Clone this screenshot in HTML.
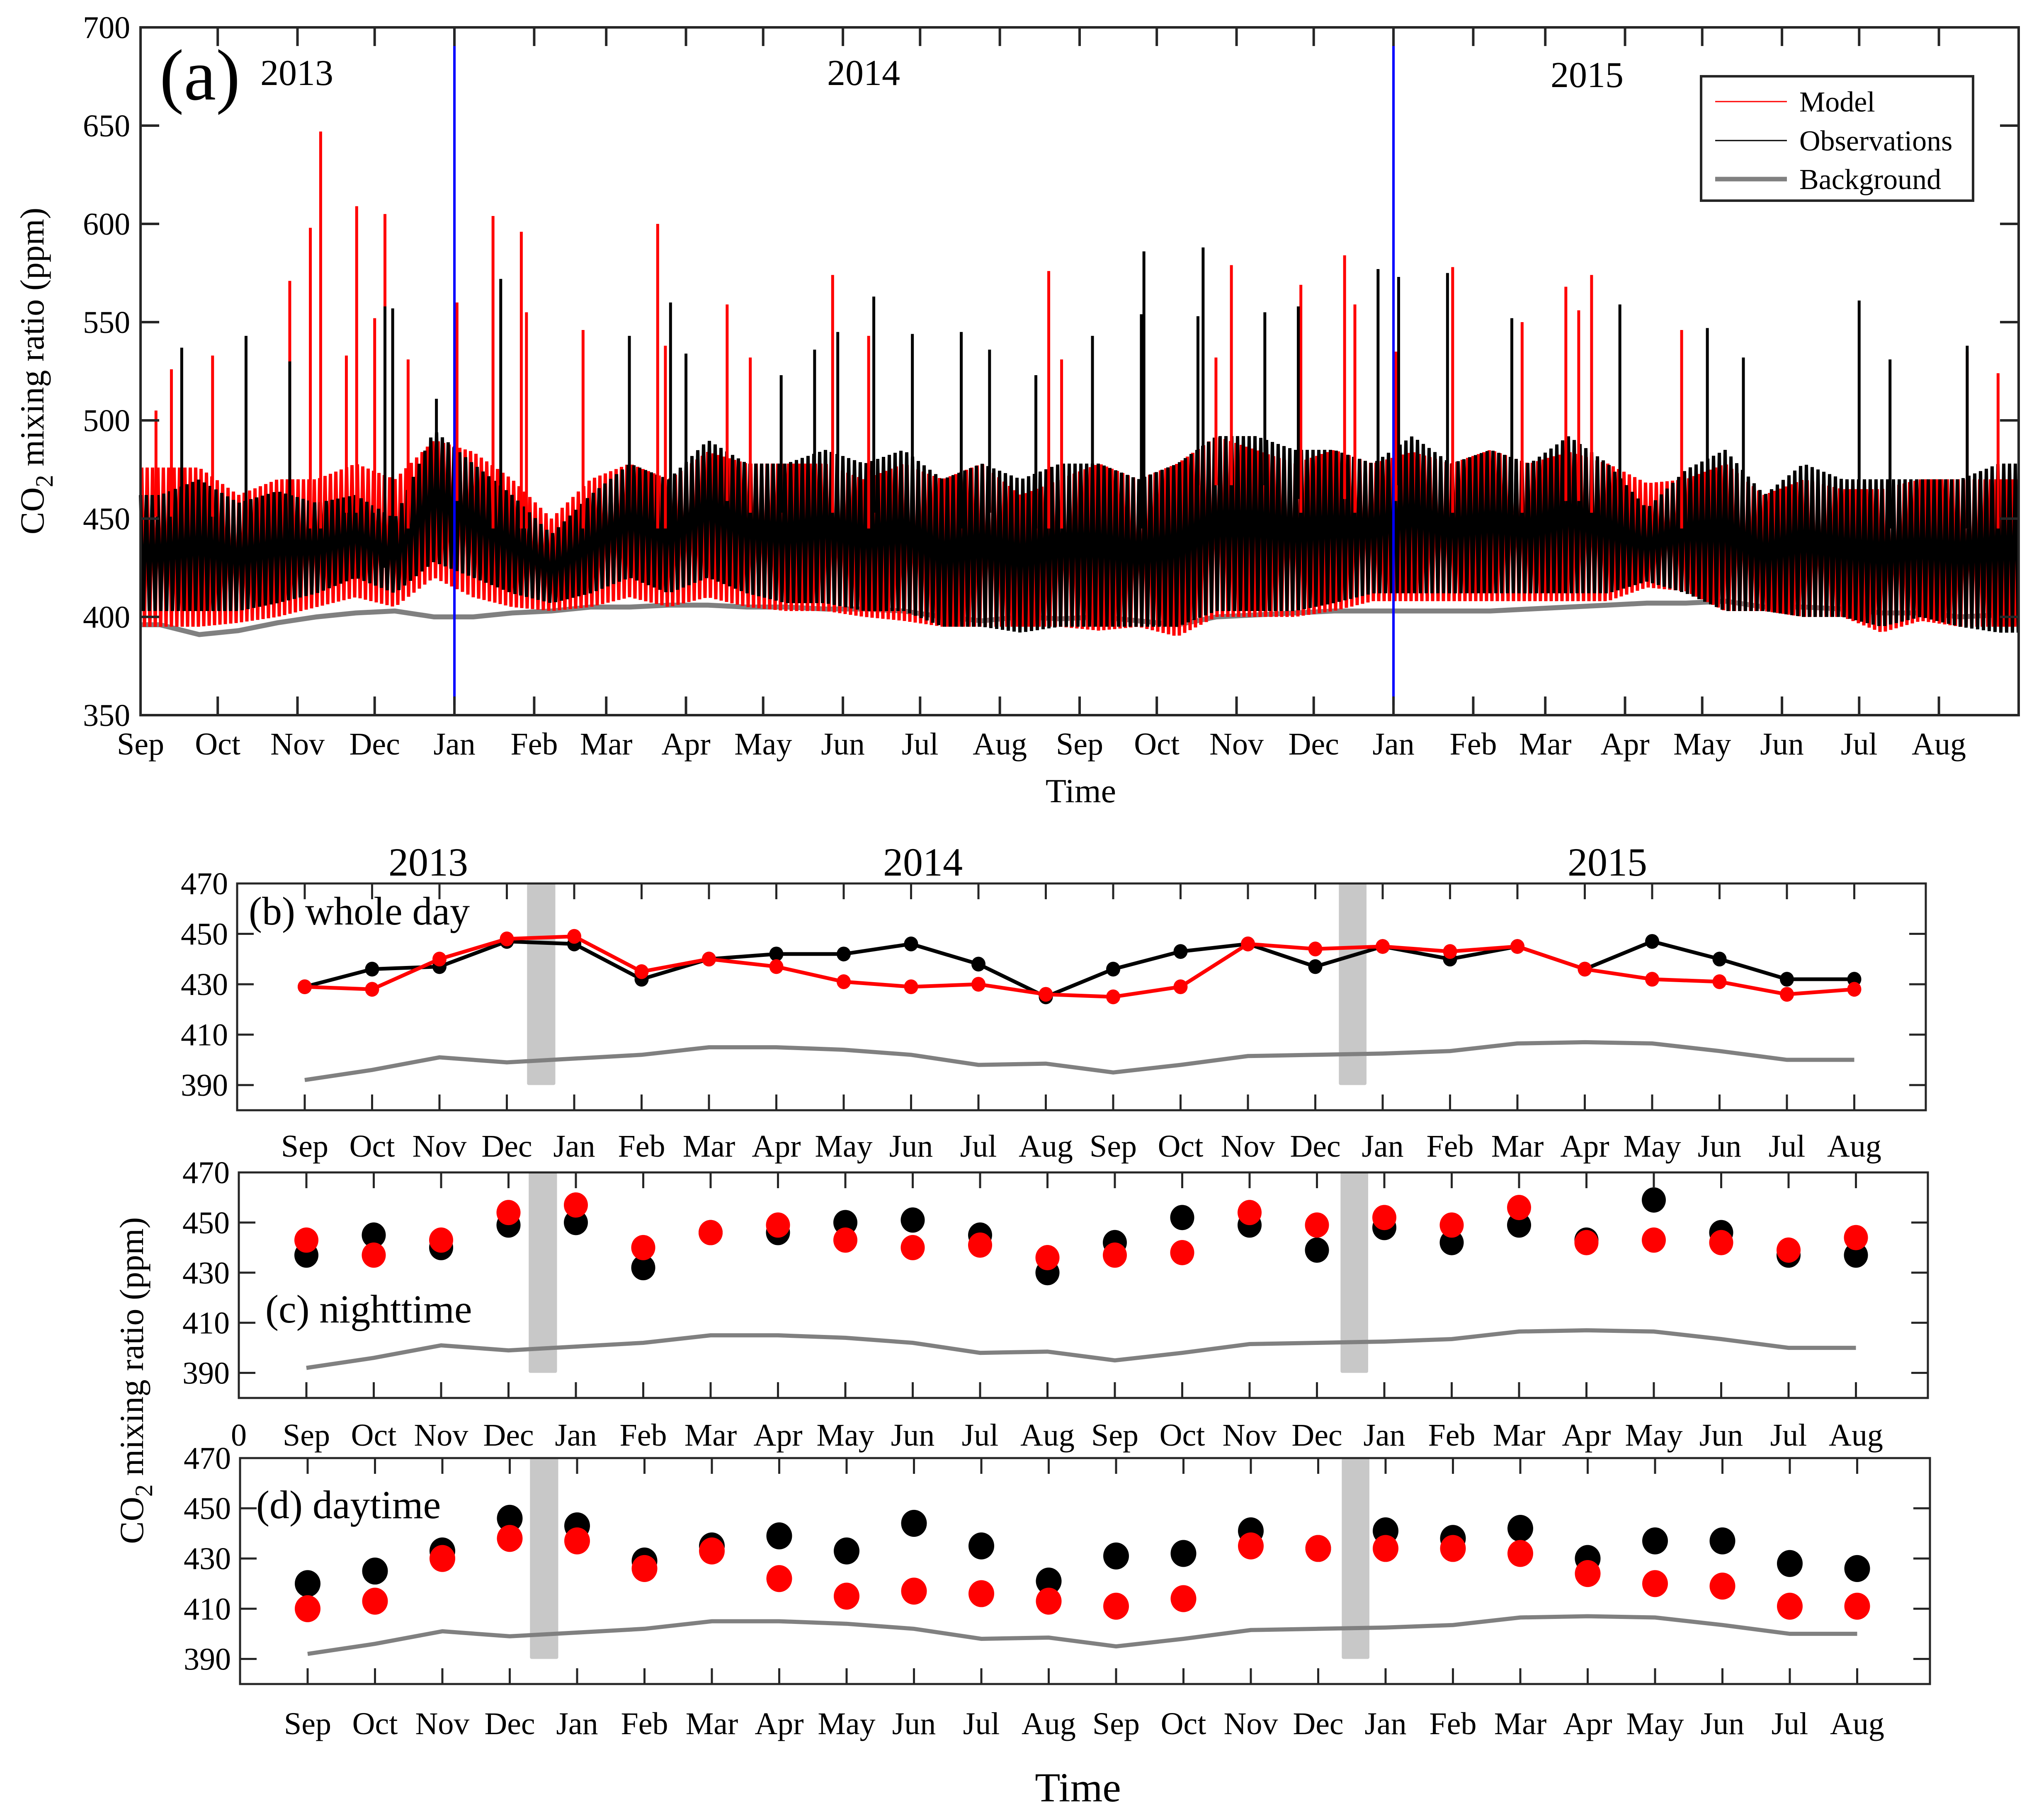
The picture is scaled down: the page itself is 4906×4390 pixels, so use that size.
<!DOCTYPE html>
<html><head><meta charset="utf-8"><style>
html,body{margin:0;padding:0;background:#fff}
svg{display:block}
text{font-family:"Liberation Serif",serif;fill:#000}
</style></head><body>
<svg id="fig" xmlns="http://www.w3.org/2000/svg" width="4906" height="4390" viewBox="0 0 4906 4390">
<rect width="4906" height="4390" fill="#fff"/>
<g id="pa"></g>
<g id="pb"></g>
<g id="pc"></g>
<g id="pd"></g>
<g id="lab"></g>
</svg>
<script>
// ---------- Panel (a) data: half-month envelopes (Sep 2013 H1 ... Aug 2015 H2) ----------
const obsHi=[462,470,458,464,458,462,450,495,478,462,442,462,478,470,490,478,478,485,478,485,470,478,470,478,478,470,478,492,492,485,485,478,492,478,485,478,492,478,455,475,485,462,478,470,470,470,470,478];
const obsLo=[403,403,403,407,412,420,412,428,420,412,407,412,420,412,420,412,407,407,403,403,395,395,392,395,395,395,395,403,403,403,407,412,412,412,412,412,412,412,418,412,403,403,400,400,395,400,395,392];
const modHi=[476,476,462,470,470,478,470,490,484,470,450,470,478,470,484,478,478,478,470,478,470,478,462,470,478,470,478,492,485,478,485,478,484,478,485,478,484,478,468,470,478,462,470,465,465,470,470,470];
const modLo=[395,395,397,400,405,410,405,420,410,405,403,405,410,405,410,405,403,403,400,398,395,395,395,395,393,395,390,400,400,400,403,408,408,408,408,408,408,408,415,413,403,403,400,400,392,398,395,395];
const bgA=[396,391,393,397,400,402,403,400,400,402,403,405,405,406,406,405,405,404,404,403,400,398,400,399,400,398,396,400,401,402,403,403,403,403,403,404,405,406,407,407,408,405,405,404,402,402,400,401];
// spikes: [day since 1 Sep 2013, ppm]
const modSpikes=[[6,505],[12,526],[28,533],[58,571],[66,598],[70,647],[80,533],[84,609],[91,552],[95,605],[104,531],[123,560],[137,604],[148,596],[150,555],[172,546],[201,600],[204,538],[228,559],[237,532],[269,574],[283,543],[353,576],[358,531],[418,532],[424,579],[451,569],[468,584],[472,559],[488,535],[510,578],[537,550],[554,568],[559,556],[564,574],[599,546],[710,535],[722,524]];
const obsSpikes=[[16,537],[41,543],[58,530],[95,558],[98,557],[115,511],[140,572],[190,543],[206,560],[212,534],[249,523],[262,536],[271,545],[285,563],[300,544],[319,545],[330,536],[348,523],[370,543],[389,554],[390,586],[411,553],[413,588],[437,555],[450,558],[481,577],[489,573],[508,575],[533,552],[575,559],[609,547],[623,532],[668,561],[680,531],[710,538]];
const monthStartDays=[0,30,61,91,122,153,181,212,242,273,303,334,365,395,426,456,487,518,546,577,607,638,668,699];
const monthLabels=["Sep","Oct","Nov","Dec","Jan","Feb","Mar","Apr","May","Jun","Jul","Aug","Sep","Oct","Nov","Dec","Jan","Feb","Mar","Apr","May","Jun","Jul","Aug"];
const yTicksA=[350,400,450,500,550,600,650,700];
const blueLineDays=[122,487];

// ---------- Panels (b)(c)(d) monthly data ----------
const bObs=[429,436,437,447,446,432,440,442,442,446,438,425,436,443,446,437,445,440,445,436,447,440,432,432];
const bMod=[429,428,440,448,449,435,440,437,431,429,430,426,425,429,446,444,445,443,445,436,432,431,426,428];
const bgMonthly=[392,396,401,399,400.5,402,405,405,404,402,398,398.5,395,398,401.5,402,402.5,403.5,406.5,407,406.5,403.5,400,400];
const cObs=[437,445,440,449,450,432,446,446,450,451,445,430,442,452,449,439,448,442,449,443,459,446,437,437];
const cMod=[443,437,443,454,457,440,446,449,443,440,441,436,437,438,454,449,452,449,456,442,443,442,439,444];
const dObs=[420,425,433,446,443,429,435,439,433,444,435,421,431,432,441,434,441,438,442,430,437,437,428,426];
const dMod=[410,413,430,438,437,426,433,422,415,417,416,413,411,414,435,434,434,434,432,424,420,419,411,411];
const yTicksS=[390,410,430,450,470];
const bands=[[3.3,3.72],[15.35,15.76]];

const NS="http://www.w3.org/2000/svg";
function mk(parent,tag,attrs,txt){const e=document.createElementNS(NS,tag);for(const k in attrs)e.setAttribute(k,attrs[k]);if(txt!==undefined)e.textContent=txt;parent.appendChild(e);return e;}

// ---------- Panel (a) ----------
(function(){
const g=document.getElementById('pa');
const L=339,R=4869,T=66,B=1725;
const x=d=>L+(d/730)*(R-L);
const y=v=>B-(v-350)/350*(B-T);
const hmw=(R-L)/48;
function interp(arr,px){
  let f=(px-L)/hmw-0.5;
  if(f<=0)return arr[0];
  if(f>=arr.length-1)return arr[arr.length-1];
  const i=Math.floor(f),t=f-i;return arr[i]*(1-t)+arr[i+1]*t;
}
function zig(hi,lo,col,name,phase,step,w){
  let pts=[];let k=0;
  for(let px=L+phase;px<=R;px+=step,k++){
    const v=(k%2===0)?interp(hi,px):interp(lo,px);
    pts.push(px.toFixed(1)+','+y(v).toFixed(1));
  }
  const p=mk(g,'polyline',{points:pts.join(' '),fill:'none',stroke:col,'stroke-width':w,'stroke-linejoin':'bevel'});
  
  
}
let bp=bgA.map((v,i)=>(L+(i+0.5)*hmw).toFixed(1)+','+y(v).toFixed(1));
bp.unshift(L+','+y(bgA[0]).toFixed(1));bp.push(R+','+y(bgA[bgA.length-1]).toFixed(1));
const bl=mk(g,'polyline',{points:bp.join(' '),fill:'none',stroke:'#808080','stroke-width':12});


zig(modHi,modLo,'#ff0000','model-series',3,6.5,8);
zig(obsHi,obsLo,'#000000','observations-series',0,7,8);
function hiAt(arr,d){const i=Math.min(47,Math.max(0,Math.floor(d/730*48)));return arr[i];}
modSpikes.forEach(s=>{const l=mk(g,'line',{x1:x(s[0]),x2:x(s[0]),y1:y(hiAt(modHi,s[0])-25),y2:y(s[1]),stroke:'#ff0000','stroke-width':7});

});
obsSpikes.forEach(s=>{const l=mk(g,'line',{x1:x(s[0]),x2:x(s[0]),y1:y(hiAt(obsHi,s[0])-25),y2:y(s[1]),stroke:'#000','stroke-width':7});

});
blueLineDays.forEach(d=>{const l=mk(g,'line',{x1:x(d),x2:x(d),y1:y(355),y2:y(700),stroke:'#0000ff','stroke-width':6});

});
const ax=mk(g,'rect',{x:L,y:T,width:R-L,height:B-T,fill:'none',stroke:'#262626','stroke-width':6});


yTicksA.forEach(v=>{mk(g,'line',{x1:L,x2:L+45,y1:y(v),y2:y(v),stroke:'#262626','stroke-width':6});
mk(g,'line',{x1:R-45,x2:R,y1:y(v),y2:y(v),stroke:'#262626','stroke-width':6});
const t=mk(g,'text',{x:L-25,y:y(v)+26,'text-anchor':'end','font-size':76},String(v));

});
monthStartDays.forEach((d,i)=>{mk(g,'line',{x1:x(d),x2:x(d),y1:B,y2:B-45,stroke:'#262626','stroke-width':6});
mk(g,'line',{x1:x(d),x2:x(d),y1:T,y2:T+45,stroke:'#262626','stroke-width':6});
const t=mk(g,'text',{x:x(d),y:B+95,'text-anchor':'middle','font-size':76},monthLabels[i]);

});
})();

// ---------- Panels b,c,d ----------
function small(id,L,R,T,B,obs,mod,lines,r,ticklabY,zero){
const g=document.getElementById(id);
const sepX=L+163, step=162.5;
const x=i=>sepX+i*step;
const y=v=>B-(v-380)/90*(B-T);
bands.forEach(b=>{const rr=mk(g,'rect',{x:x(b[0]),y:y(470),width:x(b[1])-x(b[0]),height:y(390)-y(470),fill:'#c8c8c8',rx:4});

});
const bl=mk(g,'polyline',{points:bgMonthly.map((v,i)=>x(i).toFixed(1)+','+y(v).toFixed(1)).join(' '),fill:'none',stroke:'#808080','stroke-width':10});


if(lines){
 const o=mk(g,'polyline',{points:obs.map((v,i)=>x(i)+','+y(v)).join(' '),fill:'none',stroke:'#000','stroke-width':9});
 
 
}
obs.forEach((v,i)=>{const c=mk(g,'ellipse',{cx:x(i),cy:y(v),rx:r,ry:r*1.05,fill:'#000'});

});
if(lines){
 const m=mk(g,'polyline',{points:mod.map((v,i)=>x(i)+','+y(v)).join(' '),fill:'none',stroke:'#ff0000','stroke-width':9});
 
 
}
mod.forEach((v,i)=>{const c=mk(g,'ellipse',{cx:x(i),cy:y(v),rx:r,ry:r*1.05,fill:'#ff0000'});

});
const ax=mk(g,'rect',{x:L,y:T,width:R-L,height:B-T,fill:'none',stroke:'#262626','stroke-width':5});


yTicksS.forEach(v=>{mk(g,'line',{x1:L,x2:L+40,y1:y(v),y2:y(v),stroke:'#262626','stroke-width':5});
mk(g,'line',{x1:R-40,x2:R,y1:y(v),y2:y(v),stroke:'#262626','stroke-width':5});
const t=mk(g,'text',{x:L-22,y:y(v)+26,'text-anchor':'end','font-size':76},String(v));

});
monthLabels.forEach((lab,i)=>{mk(g,'line',{x1:x(i),x2:x(i),y1:B,y2:B-38,stroke:'#262626','stroke-width':5});
mk(g,'line',{x1:x(i),x2:x(i),y1:T,y2:T+38,stroke:'#262626','stroke-width':5});
const t=mk(g,'text',{x:x(i),y:ticklabY,'text-anchor':'middle','font-size':76},lab);

});
if(zero){const t=mk(g,'text',{x:L,y:ticklabY,'text-anchor':'middle','font-size':76},'0');

}
}
small('pb',572,4645,2131,2678,bObs,bMod,true,17,2790,false);
small('pc',576,4650,2828,3372,cObs,cMod,false,29,3487,true);
small('pd',579,4655,3517,4062,dObs,dMod,false,31,4183,false);
</script>
<script>
(function(){
const g=document.getElementById('lab');
function t(x,y,s,size,name,extra){const e=document.createElementNS("http://www.w3.org/2000/svg",'text');e.setAttribute('x',x);e.setAttribute('y',y);e.setAttribute('font-size',size);if(extra)for(const k in extra)e.setAttribute(k,extra[k]);e.textContent=s;


g.appendChild(e);return e;}
t(385,240,'(a)',175,'panel-a-label');
t(628,205,'2013',88,'year-label-2013');
t(1995,205,'2014',88,'year-label-2014');
t(3740,210,'2015',88,'year-label-2015');
t(2607,1935,'Time',82,'x-axis-title-a',{'text-anchor':'middle'});
const ya=t(0,0,'',82,'y-axis-title-a',{transform:'translate(105,895) rotate(-90)','text-anchor':'middle'});
ya.innerHTML='CO<tspan font-size="60" dy="22">2</tspan><tspan dy="-22"> mixing ratio (ppm)</tspan>';
const NS="http://www.w3.org/2000/svg";
const lg=document.createElementNS(NS,'g');


g.appendChild(lg);
const box=document.createElementNS(NS,'rect');
box.setAttribute('x',4103);box.setAttribute('y',184);box.setAttribute('width',656);box.setAttribute('height',300);box.setAttribute('fill','#fff');box.setAttribute('stroke','#262626');box.setAttribute('stroke-width',6);


lg.appendChild(box);
[['Model','#ff0000',3,245],['Observations','#000',3,339],['Background','#808080',11,432]].forEach(e=>{
 const l=document.createElementNS(NS,'line');l.setAttribute('x1',4137);l.setAttribute('x2',4310);l.setAttribute('y1',e[3]);l.setAttribute('y2',e[3]);l.setAttribute('stroke',e[1]);l.setAttribute('stroke-width',e[2]);
 
 
 lg.appendChild(l);
 const tx=document.createElementNS(NS,'text');tx.setAttribute('x',4340);tx.setAttribute('y',e[3]+24);tx.setAttribute('font-size',70);tx.textContent=e[0];
 
 
 lg.appendChild(tx);
});
t(1033,2112,'2013',96,'year-label-b-2013',{'text-anchor':'middle'});
t(2226,2112,'2014',96,'year-label-b-2014',{'text-anchor':'middle'});
t(3877,2112,'2015',96,'year-label-b-2015',{'text-anchor':'middle'});
t(600,2230,'(b) whole day',96,'panel-b-label');
t(640,3190,'(c) nighttime',96,'panel-c-label');
t(618,3662,'(d) daytime',96,'panel-d-label');
const yb=t(0,0,'',82,'y-axis-title-bcd',{transform:'translate(345,3330) rotate(-90)','text-anchor':'middle'});
yb.innerHTML='CO<tspan font-size="60" dy="22">2</tspan><tspan dy="-22"> mixing ratio (ppm)</tspan>';
t(2600,4345,'Time',100,'x-axis-title-bcd',{'text-anchor':'middle'});
})();
</script>
</body></html>
